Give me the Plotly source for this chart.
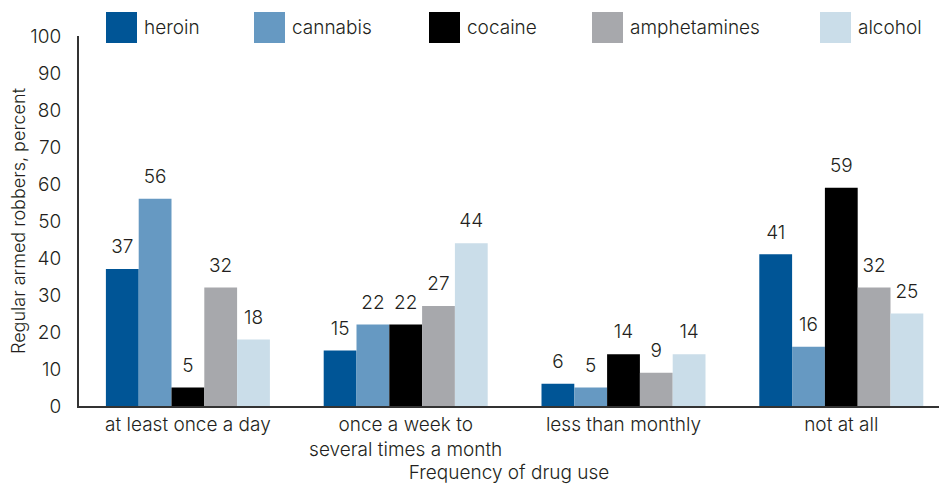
import plotly.graph_objects as go

categories = ["at least once a day", "once a week to<br>several times a month", "less than monthly", "not at all"]
series_names = ["heroin", "cannabis", "cocaine", "amphetamines", "alcohol"]
heroin = [37, 15, 6, 41]
cannabis = [56, 22, 5, 16]
cocaine = [5, 22, 14, 59]
amphetamines = [32, 27, 9, 32]
alcohol = [18, 44, 14, 25]
y_ticks = [0, 10, 20, 30, 40, 50, 60, 70, 80, 90, 100]

colors = ["#005596", "#6699c2", "#000000", "#a7a8ac", "#cadde9"]
values = [heroin, cannabis, cocaine, amphetamines, alcohol]

FONT = "Inter"
FW = 300
TXT = "#231f20"
FS = 19
GAP = 0.247

fig = go.Figure()
xs = list(range(len(categories)))
for name, vals, col in zip(series_names, values, colors):
    fig.add_trace(go.Bar(
        name=name, x=xs, y=vals, offsetgroup=name, alignmentgroup="g",
        marker=dict(color=col, line=dict(width=0)),
        showlegend=False, hoverinfo="skip",
    ))
for name, vals in zip(series_names, values):
    fig.add_trace(go.Scatter(
        name=name + " labels", x=xs, y=vals, offsetgroup=name, alignmentgroup="g",
        mode="markers+text", marker=dict(size=16, opacity=0),
        text=[str(v) for v in vals], textposition="top center",
        textfont=dict(family=FONT, size=FS, color=TXT, weight=FW),
        cliponaxis=False, showlegend=False,
    ))

W, H = 939, 484
ml, mr, mt, mb = 79, 0, 36, 78
pw = W - ml - mr
ph = H - mt - mb

# custom legend with large square swatches
legend_px = [106, 254, 429, 592, 820]
sq = 31
shapes = []
annots = []
for name, col, px in zip(series_names, colors, legend_px):
    x0 = (px - ml) / pw
    x1 = (px + sq - ml) / pw
    y1 = (H - mb - 12) / ph
    y0 = (H - mb - 12 - sq) / ph
    shapes.append(dict(type="rect", xref="paper", yref="paper", x0=x0, x1=x1, y0=y0, y1=y1,
                       fillcolor=col, line=dict(width=0), layer="above"))
    annots.append(dict(xref="paper", yref="paper", x=(px + sq + 5 - ml) / pw, y=(y0 + y1) / 2,
                       text=name, showarrow=False, xanchor="left", yanchor="middle",
                       font=dict(family=FONT, size=FS, color=TXT, weight=FW)))

fig.update_layout(
    width=W, height=H,
    margin=dict(l=ml, r=mr, t=mt, b=mb),
    paper_bgcolor="white", plot_bgcolor="white",
    barmode="group", bargap=GAP, bargroupgap=0,
    scattermode="group", scattergap=GAP,
    font=dict(family=FONT, size=FS, color=TXT, weight=FW),
    shapes=shapes, annotations=annots,
    xaxis=dict(
        tickmode="array", tickvals=xs, ticktext=categories,
        range=[-0.5, -0.5 + pw / 217.8],
        showline=True, linecolor="#333333", linewidth=2,
        ticks="", showgrid=False, zeroline=False,
        tickfont=dict(family=FONT, size=FS, color=TXT, weight=FW),
        title=dict(text="Frequency of drug use", font=dict(family=FONT, size=FS, color=TXT, weight=FW), standoff=11),
    ),
    yaxis=dict(
        range=[0, 100], tickvals=y_ticks,
        showline=True, linecolor="#333333", linewidth=2,
        ticks="", showgrid=False, zeroline=False,
        ticklabelstandoff=12,
        tickfont=dict(family=FONT, size=FS, color=TXT, weight=FW),
        title=dict(text="Regular armed robbers, percent", font=dict(family=FONT, size=18, color=TXT, weight=FW), standoff=0),
    ),
)

fig.write_html("out.html")
